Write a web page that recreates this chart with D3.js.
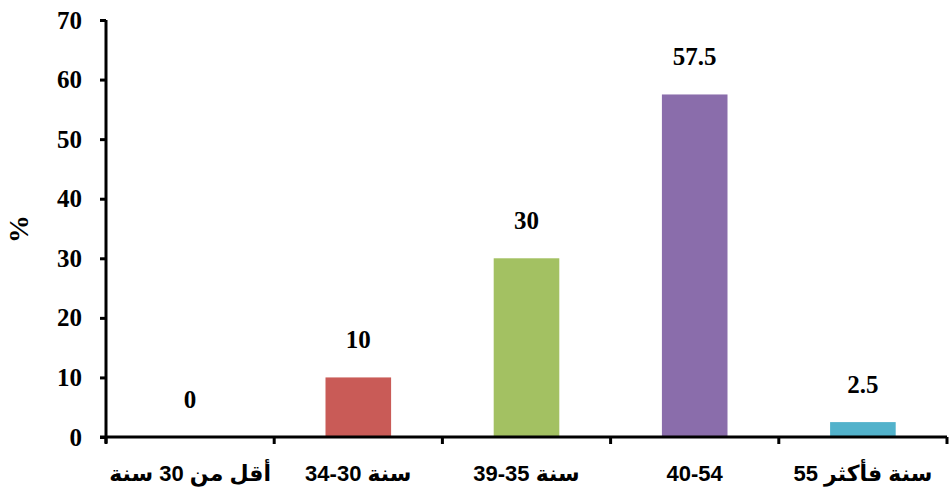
<!DOCTYPE html>
<html>
<head>
<meta charset="utf-8">
<script src="https://cdn.jsdelivr.net/npm/d3@7"></script>
<style>
  html, body { margin: 0; padding: 0; background: #fff; }
  svg { display: block; }
</style>
</head>
<body>
<svg id="chart" width="950" height="498"></svg>
<script>
const categories = ['أقل من 30 سنة', '34-30 سنة', '39-35 سنة', '40-54', '55 سنة فأكثر'];
const values = [0, 10, 30, 57.5, 2.5];
const labels = ['0', '10', '30', '57.5', '2.5'];
const colors = ['#c0504d', '#c95b57', '#a3c162', '#8a6dab', '#52b2cb'];
const yTicks = [0, 10, 20, 30, 40, 50, 60, 70];

const svg = d3.select('#chart');
const x = d3.scaleBand().domain(categories).range([106, 947]).paddingInner(0.61).paddingOuter(0.305);
const y = d3.scaleLinear().domain([0, 70]).range([437, 20]);

// bars
svg.append('g')
  .selectAll('rect')
  .data(values)
  .enter().append('rect')
  .attr('x', (d, i) => x(categories[i]))
  .attr('width', x.bandwidth())
  .attr('y', d => y(d))
  .attr('height', d => y(0) - y(d))
  .attr('fill', (d, i) => colors[i]);

// value labels
svg.append('g')
  .selectAll('text')
  .data(values)
  .enter().append('text')
  .attr('x', (d, i) => x(categories[i]) + x.bandwidth() / 2)
  .attr('y', d => y(d) - 29)
  .attr('text-anchor', 'middle')
  .attr('font-family', 'Liberation Serif, serif')
  .attr('font-weight', 'bold')
  .attr('font-size', 25)
  .text((d, i) => labels[i]);

// y axis
const yAxis = svg.append('g')
  .attr('transform', 'translate(106,0)')
  .call(d3.axisLeft(y).tickValues(yTicks).tickSize(6).tickPadding(18).tickFormat(d3.format('d')));
yAxis.select('.domain').attr('stroke', '#000').attr('stroke-width', 3).attr('d', 'M0,20V443');
yAxis.selectAll('.tick line').attr('stroke', '#000').attr('stroke-width', 3);
yAxis.selectAll('.tick text')
  .attr('font-family', 'Liberation Serif, serif')
  .attr('font-weight', 'bold')
  .attr('font-size', 25)
  .attr('fill', '#000');

// x axis
const xEdges = categories.map(c => x(c) - x.step() * x.paddingInner() / 2).concat([947]);
const xAxis = svg.append('g');
xAxis.append('line')
  .attr('x1', 100).attr('x2', 947)
  .attr('y1', y(0)).attr('y2', y(0))
  .attr('stroke', '#000').attr('stroke-width', 3);
xAxis.selectAll('.xt')
  .data(xEdges)
  .enter().append('line')
  .attr('x1', d => d).attr('x2', d => d)
  .attr('y1', y(0)).attr('y2', y(0) + 7)
  .attr('stroke', '#000').attr('stroke-width', 3);
xAxis.selectAll('.xl')
  .data(categories)
  .enter().append('text')
  .attr('x', d => x(d) + x.bandwidth() / 2)
  .attr('y', 481)
  .attr('text-anchor', 'middle')
  .attr('font-family', 'Liberation Sans, DejaVu Sans, sans-serif')
  .attr('font-weight', 'bold')
  .attr('font-size', 22)
  .text(d => d);

// y title
svg.append('text')
  .attr('transform', 'translate(28,229) rotate(-90)')
  .attr('text-anchor', 'middle')
  .attr('font-family', 'Liberation Serif, serif')
  .attr('font-weight', 'bold')
  .attr('font-size', 28)
  .text('%');
</script>
</body>
</html>
